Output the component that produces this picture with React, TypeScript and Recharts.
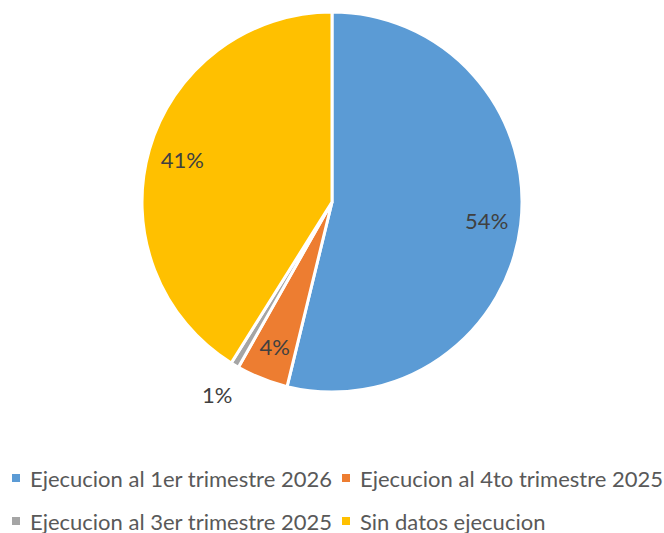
import React from 'react';
import { PieChart, Pie, Cell, Legend } from 'recharts';

const categories = [
  'Ejecucion al 1er trimestre 2026',
  'Ejecucion al 4to trimestre 2025',
  'Ejecucion al 3er trimestre 2025',
  'Sin datos ejecucion',
];
const shares = [53.8, 4.4, 0.7, 41.1];
const colors = ['#5B9BD5', '#ED7D31', '#A5A5A5', '#FFC000'];

const data = categories.map((name, i) => ({ name, value: shares[i] }));

const RAD = Math.PI / 180;

const renderLabel = (props: any) => {
  const { cx, cy, midAngle, outerRadius, percent } = props;
  const r = percent < 0.02 ? outerRadius * 1.18 : outerRadius * 0.82;
  const x = cx + r * Math.cos(-midAngle * RAD);
  const y = cy + r * Math.sin(-midAngle * RAD);
  return (
    <text
      x={x}
      y={y}
      fill="#404040"
      fontSize={22}
      fontFamily="Lato, 'Open Sans', sans-serif"
      textAnchor="middle"
      dominantBaseline="central"
    >
      {`${Math.round(percent * 100)}%`}
    </text>
  );
};

const renderLegend = () => {
  const pos = [
    { x: 12, y: 466 },
    { x: 342, y: 466 },
    { x: 12, y: 509 },
    { x: 342, y: 509 },
  ];
  return (
    <div style={{ position: 'relative', width: 664, height: 533 }}>
      {categories.map((name, i) => (
        <div
          key={name}
          style={{
            position: 'absolute',
            left: pos[i].x,
            top: pos[i].y,
            display: 'flex',
            alignItems: 'center',
            height: 24,
            whiteSpace: 'nowrap',
          }}
        >
          <span style={{ width: 8, height: 8, background: colors[i], marginRight: 10 }} />
          <span style={{ fontFamily: "Lato, 'Open Sans', sans-serif", fontSize: 22, color: '#595959' }}>
            {name}
          </span>
        </div>
      ))}
    </div>
  );
};

export default function App() {
  return (
    <div style={{ position: 'absolute', left: 0, top: 0, width: 664, height: 533, background: '#fff' }}>
      <PieChart width={664} height={533} margin={{ top: 0, right: 0, bottom: 0, left: 0 }}>
        <Pie
          data={data}
          dataKey="value"
          nameKey="name"
          cx={332}
          cy={202}
          outerRadius={190}
          startAngle={90}
          endAngle={-270}
          stroke="#ffffff"
          strokeWidth={3}
          label={renderLabel}
          labelLine={false}
          isAnimationActive={false}
        >
          {data.map((d, i) => (
            <Cell key={d.name} fill={colors[i]} />
          ))}
        </Pie>
        <Legend
          content={renderLegend}
          wrapperStyle={{ left: 0, top: 0, width: 664, height: 533, pointerEvents: 'none' }}
        />
      </PieChart>
    </div>
  );
}
